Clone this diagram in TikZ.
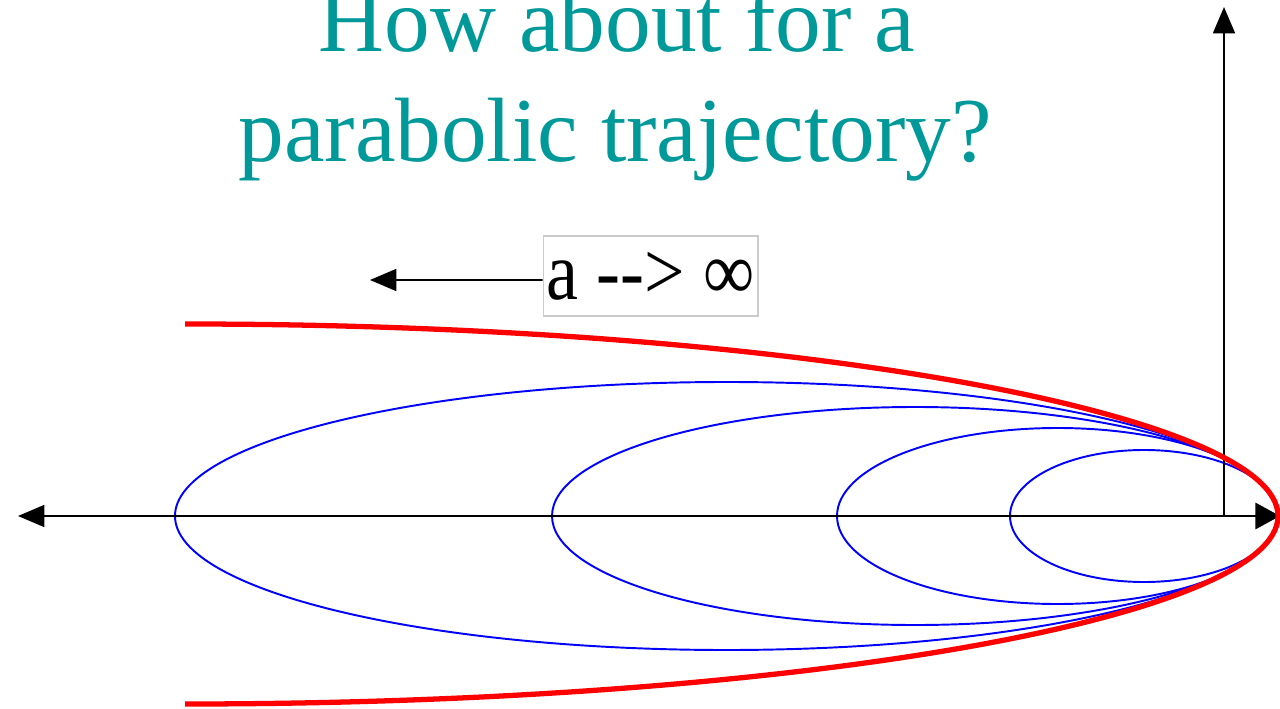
\documentclass[tikz,border=0pt]{standalone}
\usepackage{fontspec}
\setmainfont{Liberation Serif}
\usepackage{graphicx}
\usetikzlibrary{arrows.meta}
\definecolor{titleteal}{RGB}{0,153,153}

\begin{document}
\begin{tikzpicture}[x=0.02cm,y=-0.02cm,
  every node/.style={inner sep=0pt},
  axis/.style={line width=1.1pt,-{Triangle[length=15pt,width=12.5pt]}},
  orbit/.style={blue,line width=1.1pt},
  parab/.style={red,line width=3pt},
  titletext/.style={anchor=base,text=titleteal,font=\fontsize{52}{62}\selectfont}]
  \useasboundingbox (0,0) rectangle (1280,709);
  % title
  \node[titletext] (title1) at (617,52) {How about for a};
  \node[titletext] (title2) at (615,162) {parabolic trajectory?};
  % ellipses, same periapsis
  \foreach \cx/\rx/\ry in {726.5/551.5/134, 915/363/109, 1057.5/220.5/88, 1144/134/66}
    \draw[orbit] (\cx,516) ellipse [x radius=\rx, y radius=\ry];
  % axes
  \coordinate (O) at (1224,516);
  \coordinate (xmin) at (18,516);
  \coordinate (xmax) at (1280,516);
  \coordinate (ymax) at (1224,7);
  \draw[axis,{Triangle[length=15pt,width=12.5pt]}-{Triangle[length=14pt,width=15pt]}] (xmin) -- (xmax);
  \draw[axis] (O) -- (ymax);
  % parabola
  \draw[parab] (185,324) .. controls (800,324) and (1278,415) .. (1278,516)
    .. controls (1278,617) and (800,704) .. (185,704);
  % a --> infinity
  \node[draw=black!20,line width=0.6pt,minimum width=4.3cm,minimum height=1.6cm,
    font=\fontsize{47}{50}\selectfont] (limit) at (650.5,276) {\scalebox{0.87}[1]{a -{}-> ∞}};
  \coordinate (limtip) at (370,280);
  \draw[axis] ([yshift=-0.08cm]limit.west) -- (limtip);
\end{tikzpicture}
\end{document}
